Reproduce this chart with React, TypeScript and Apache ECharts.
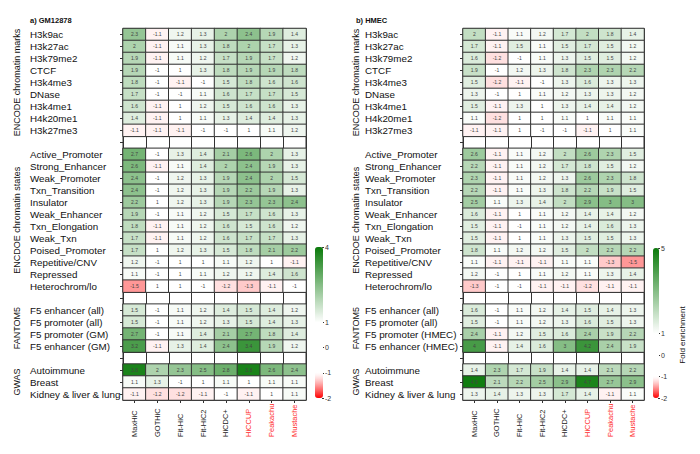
import React, { useEffect, useRef } from 'react';
import * as echarts from 'echarts';

// ---------- data ----------
const columns = ['MaxHiC', 'GOTHiC', 'Fit-HiC', 'Fit-HiC2', 'HiCDC+', 'HiCCUP', 'Peakachu', 'Mustache'];
const redColumns = ['HiCCUP', 'Peakachu', 'Mustache'];

const markRows = ['H3k9ac', 'H3k27ac', 'H3k79me2', 'CTCF', 'H3k4me3', 'DNase', 'H3k4me1', 'H4k20me1', 'H3k27me3'];
const stateRows = ['Active_Promoter', 'Strong_Enhancer', 'Weak_Promoter', 'Txn_Transition', 'Insulator', 'Weak_Enhancer',
  'Txn_Elongation', 'Weak_Txn', 'Poised_Promoter', 'Repetitive/CNV', 'Repressed', 'Heterochrom/lo'];
const fantomRowsGM = ['F5 enhancer (all)', 'F5 promoter (all)', 'F5 promoter (GM)', 'F5 enhancer (GM)'];
const fantomRowsHMEC = ['F5 enhancer (all)', 'F5 promoter (all)', 'F5 promoter (HMEC)', 'F5 enhancer (HMEC)'];
const gwasRows = ['Autoimmune', 'Breast', 'Kidney & liver & lung'];
const groupLabels = ['ENCODE chromatin marks', 'ENCDOE chromatin states', 'FANTOM5', 'GWAS'];

const gmMarks = [
  [2.3, -1.1, 1.2, 1.3, 2, 2.4, 1.9, 1.4],
  [2, -1.1, 1.1, 1.3, 1.8, 2, 1.7, 1.3],
  [1.9, -1.1, 1.1, 1.2, 1.7, 1.9, 1.7, 1.2],
  [1.9, -1, 1, 1.3, 1.8, 1.9, 1.9, 1.8],
  [1.8, -1, -1.1, -1, 1.5, 1.8, 1.6, 1.6],
  [1.7, -1, -1, 1.1, 1.6, 1.7, 1.7, 1.5],
  [1.6, -1.1, 1, 1.2, 1.5, 1.6, 1.6, 1.3],
  [1.4, -1.1, 1, 1.1, 1.3, 1.4, 1.4, 1.3],
  [-1.1, -1.1, -1.1, -1, -1, 1, 1.1, 1.2],
];
const gmStates = [
  [2.7, -1, 1.3, 1.4, 2.1, 2.6, 2, 1.3],
  [2.6, -1.1, 1.1, 1.4, 2, 2.4, 1.9, 1.3],
  [2.4, -1, 1.2, 1.3, 1.9, 2.4, 2, 1.5],
  [2.4, -1, 1.2, 1.3, 1.9, 2.2, 1.9, 1.3],
  [2.2, 1, 1.2, 1.3, 1.9, 2.3, 2.3, 2.4],
  [1.9, -1, 1.1, 1.2, 1.5, 1.7, 1.6, 1.3],
  [1.8, -1.1, 1.1, 1.2, 1.6, 1.5, 1.6, 1.2],
  [1.7, -1.1, 1.1, 1.2, 1.6, 1.7, 1.7, 1.3],
  [1.7, 1, 1.2, 1.3, 1.5, 1.8, 2.1, 2.2],
  [1.2, -1, 1, 1, 1.1, 1.2, 1, -1.1],
  [1.1, -1, 1, 1.1, 1.2, 1.2, 1.4, 1.6],
  [-1.5, 1, 1, -1, -1.2, -1.3, -1.1, -1],
];
const gmFantom = [
  [1.5, -1, 1.1, 1.2, 1.4, 1.5, 1.4, 1.2],
  [1.5, -1, 1.1, 1.2, 1.3, 1.5, 1.4, 1.3],
  [2.7, -1, 1.1, 1.4, 2.1, 2.7, 1.8, 1.4],
  [3.2, -1.1, 1.3, 1.4, 2.4, 3.4, 1.9, 1.2],
];
const gmGwas = [
  [3.8, 2, 2.3, 2.5, 2.8, 3.8, 2.6, 2.4],
  [1.1, 1.3, -1, 1, 1.1, 1, 1.1, 1.1],
  [-1.1, -1.2, -1.2, -1.1, -1, -1.1, 1, 1.1],
];

const hmecMarks = [
  [2, -1.1, 1.1, 1.2, 1.7, 2, 1.8, 1.4],
  [1.7, -1.1, 1.5, 1.1, 1.5, 1.7, 1.5, 1.2],
  [1.6, -1.2, -1, 1.1, 1.3, 1.5, 1.5, 1.2],
  [1.9, -1, 1.2, 1.3, 1.8, 2.3, 2.3, 2.2],
  [1.5, -1.2, -1.1, -1, 1.3, 1.6, 1.3, 1.3],
  [1.3, -1, 1, 1.1, 1.2, 1.3, 1.3, 1.2],
  [1.5, -1.1, 1.3, 1, 1.3, 1.4, 1.4, 1.2],
  [1.1, -1.2, 1, 1, 1.1, 1, 1.1, 1.1],
  [-1.1, -1.1, 1, -1, -1, -1.1, 1, 1.1],
];
const hmecStates = [
  [2.6, -1.1, 1.1, 1.2, 2, 2.6, 2.3, 1.5],
  [2.2, -1.1, 1.1, 1.2, 1.7, 1.8, 1.5, 1.2],
  [2.3, -1.1, 1.1, 1.2, 1.3, 2.6, 2.3, 1.8],
  [2.2, -1.1, 1.1, 1.3, 1.8, 2.2, 1.9, 1.5],
  [2.5, 1.1, 1.3, 1.4, 2, 2.9, 3, 3],
  [1.6, -1.1, 1, 1.1, 1.2, 1.4, 1.4, 1.2],
  [1.5, -1.1, -1, 1.1, 1.2, 1.4, 1.6, 1.3],
  [1.5, -1.1, 1, 1.1, 1.3, 1.5, 1.5, 1.3],
  [1.8, 1.1, 1.2, 1.2, 1.5, 2, 2.2, 2.2],
  [1.1, -1.1, -1.1, -1.1, 1.1, 1.1, -1.3, -1.5],
  [1.2, -1, 1, 1.1, 1.2, 1.1, 1.3, 1.4],
  [-1.3, -1, -1, -1.1, -1.1, -1.2, -1.1, -1.1],
];
const hmecFantom = [
  [1.6, -1, 1.1, 1.2, 1.4, 1.5, 1.4, 1.3],
  [1.5, -1, 1.1, 1.2, 1.3, 1.6, 1.5, 1.3],
  [2.4, -1.1, 1.2, 1.5, 1.6, 2.4, 1.9, 2.2],
  [4, -1.1, 1.4, 1.6, 3, 4.2, 2.4, 1.9],
];
const hmecGwas = [
  [1.4, 2.3, 1.7, 1.9, 1.4, 1.4, 2.1, 2.2],
  [4.9, 2.1, 2.2, 2.5, 2.9, 4.7, 2.7, 2.9],
  [1.3, 1.4, 1.3, 1.3, 1.7, 1.4, -1.1, 1.1],
];

const colorbarTicksGM = [4, 1, 0, -1, -2];
const colorbarTicksHMEC = [5, 1, 0, -1, -2];

// ---------- helpers ----------
const FONT = 'Liberation Sans, Arial, Helvetica, sans-serif';
const GREEN = [10, 122, 10];
const REDRGB = [255, 0, 0];

function mixWhite(rgb: number[], t: number) {
  const c = rgb.map((v) => Math.round(255 + (v - 255) * t));
  return `rgb(${c[0]},${c[1]},${c[2]})`;
}
// colour stops every 0.1 of fold enrichment, from -2 up to max
function scaleColors(max: number) {
  const arr: string[] = [];
  const n = Math.round((max + 2) * 10);
  for (let k = 0; k <= n; k++) {
    const v = -2 + k / 10;
    if (v <= -1) arr.push(mixWhite(REDRGB, Math.pow(Math.min(1, -v - 1), 1.3)));
    else if (v < 1) arr.push('#ffffff');
    else arr.push(mixWhite(GREEN, (v - 1) / (max - 1)));
  }
  return arr;
}

function buildPanel(groups: { rows: string[]; values: number[][] }[]) {
  const names: string[] = [];
  const data: [number, number, number][] = [];
  const spans: { start: number; count: number }[] = [];
  let blank = 0;
  groups.forEach((g, gi) => {
    if (gi > 0) {
      blank++;
      names.push(' '.repeat(blank));
    }
    spans.push({ start: names.length, count: g.rows.length });
    g.rows.forEach((r, ri) => {
      const y = names.length;
      names.push(r);
      g.values[ri].forEach((v, x) => data.push([x, y, v]));
    });
  });
  return { names, data, spans };
}

const panelA = buildPanel([
  { rows: markRows, values: gmMarks },
  { rows: stateRows, values: gmStates },
  { rows: fantomRowsGM, values: gmFantom },
  { rows: gwasRows, values: gmGwas },
]);
const panelB = buildPanel([
  { rows: markRows, values: hmecMarks },
  { rows: stateRows, values: hmecStates },
  { rows: fantomRowsHMEC, values: hmecFantom },
  { rows: gwasRows, values: hmecGwas },
]);

// ---------- layout ----------
const GRID_TOP = 28.5;
const GRID_H = 371.5;
const layouts = [
  { title: 'a) GM12878', titleX: 30, gridLeft: 123, gridW: 183, labelX: 30, groupX: 17, cbLeft: 315, cbW: 8, cbTop: 247, cbH: 151, cbMax: 4, ticks: colorbarTicksGM, panel: panelA },
  { title: 'b) HMEC', titleX: 356, gridLeft: 463, gridW: 181, labelX: 365, groupX: 356, cbLeft: 653, cbW: 6, cbTop: 248, cbH: 150, cbMax: 5, ticks: colorbarTicksHMEC, panel: panelB },
];

export default function App() {
  const ref = useRef<HTMLDivElement>(null);
  useEffect(() => {
    if (!ref.current) return;
    const chart = echarts.init(ref.current, null, { renderer: 'svg' });
    const grids: any[] = [];
    const xAxes: any[] = [];
    const yAxes: any[] = [];
    const cbGrids: any[] = [];
    const cbX: any[] = [];
    const cbY: any[] = [];
    const series: any[] = [];
    const visualMaps: any[] = [];
    const graphics: any[] = [];
    const nPanels = layouts.length;

    layouts.forEach((L, i) => {
      const nRows = L.panel.names.length;
      const rowH = GRID_H / nRows;
      grids.push({
        left: L.gridLeft, top: GRID_TOP, width: L.gridW, height: GRID_H,
        show: true, borderColor: '#333', borderWidth: 1, containLabel: false, outerBoundsMode: 'none',
      });
      xAxes.push({
        type: 'category', gridIndex: i, position: 'bottom',
        data: columns.map((c) => ({
          value: c,
          textStyle: {
            color: redColumns.includes(c) ? '#ff2a2a' : '#222', align: 'left', verticalAlign: 'middle',
            fontSize: 7.5, fontFamily: FONT,
          },
        })),
        axisLine: { show: true, lineStyle: { color: '#333' } },
        axisTick: { show: true, alignWithLabel: true, length: 3, lineStyle: { color: '#333' } },
        splitLine: { show: true, lineStyle: { color: '#333', width: 1 } },
        axisLabel: { rotate: 90, align: 'left', margin: 37, fontSize: 7.5, fontFamily: FONT, interval: 0, hideOverlap: false },
      });
      yAxes.push({
        type: 'category', gridIndex: i, inverse: true, data: L.panel.names,
        axisLine: { show: true, lineStyle: { color: '#333' } },
        axisTick: { show: true, alignWithLabel: true, length: 3, interval: 0, lineStyle: { color: '#333' } },
        splitLine: { show: true, lineStyle: { color: '#333', width: 1 } },
        axisLabel: { align: 'left', margin: L.gridLeft - L.labelX, fontSize: 9.8, color: '#111', fontFamily: FONT, interval: 0, hideOverlap: false },
      });
      series.push({
        type: 'heatmap', xAxisIndex: i, yAxisIndex: i, data: L.panel.data,
        itemStyle: { borderColor: '#333', borderWidth: 1 },
        label: { show: true, fontSize: 5, color: '#444', fontFamily: FONT, formatter: (p: any) => String(p.value[2]) },
        emphasis: { disabled: true },
      });
      visualMaps.push({
        type: 'continuous', seriesIndex: i, min: -2, max: L.cbMax, orient: 'vertical',
        left: L.cbLeft, top: L.cbTop, itemWidth: L.cbW, itemHeight: L.cbH, padding: 0,
        calculable: false, hoverLink: false, inRange: { color: scaleColors(L.cbMax) },
      });
      // colorbar axis
      cbGrids.push({ left: L.cbLeft + L.cbW - 1, top: L.cbTop, width: 1, height: L.cbH, containLabel: false, outerBoundsMode: 'none' });
      cbX.push({ type: 'value', gridIndex: nPanels + i, show: false, min: 0, max: 1 });
      cbY.push({
        type: 'value', gridIndex: nPanels + i, position: 'right', min: -2, max: L.cbMax, interval: 1,
        axisLine: { show: false }, splitLine: { show: false },
        axisTick: { show: true, length: 2, customValues: L.ticks, lineStyle: { color: '#333' } },
        axisLabel: {
          customValues: L.ticks, margin: 2, fontSize: 7, color: '#333', fontFamily: FONT,
          formatter: (v: number) => (L.ticks.includes(v) ? String(v) : ''),
        },
      });
      graphics.push({
        type: 'text', x: L.titleX, y: 20,
        style: { text: L.title, font: `bold 7.5px ${FONT}`, fill: '#111', align: 'left', verticalAlign: 'middle', textAlign: 'left', textVerticalAlign: 'middle' },
      });
      L.panel.spans.forEach((s, gi) => {
        graphics.push({
          type: 'text', x: L.groupX, y: GRID_TOP + (s.start + s.count / 2) * rowH, rotation: Math.PI / 2,
          style: { text: groupLabels[gi], font: `9px ${FONT}`, fill: '#111', align: 'center', verticalAlign: 'middle', textAlign: 'center', textVerticalAlign: 'middle' },
        });
      });
    });
    graphics.push({
      type: 'text', x: 682, y: 335, rotation: Math.PI / 2,
      style: { text: 'Fold enrichment', font: `8px ${FONT}`, fill: '#111', align: 'center', verticalAlign: 'middle', textAlign: 'center', textVerticalAlign: 'middle' },
    });

    chart.setOption({
      animation: false,
      backgroundColor: '#ffffff',
      grid: [...grids, ...cbGrids],
      xAxis: [...xAxes, ...cbX],
      yAxis: [...yAxes, ...cbY],
      visualMap: visualMaps,
      series,
      graphic: graphics,
    });
    return () => chart.dispose();
  }, []);
  return <div ref={ref} style={{ position: 'fixed', left: 0, top: 0, width: 700, height: 454 }} />;
}
